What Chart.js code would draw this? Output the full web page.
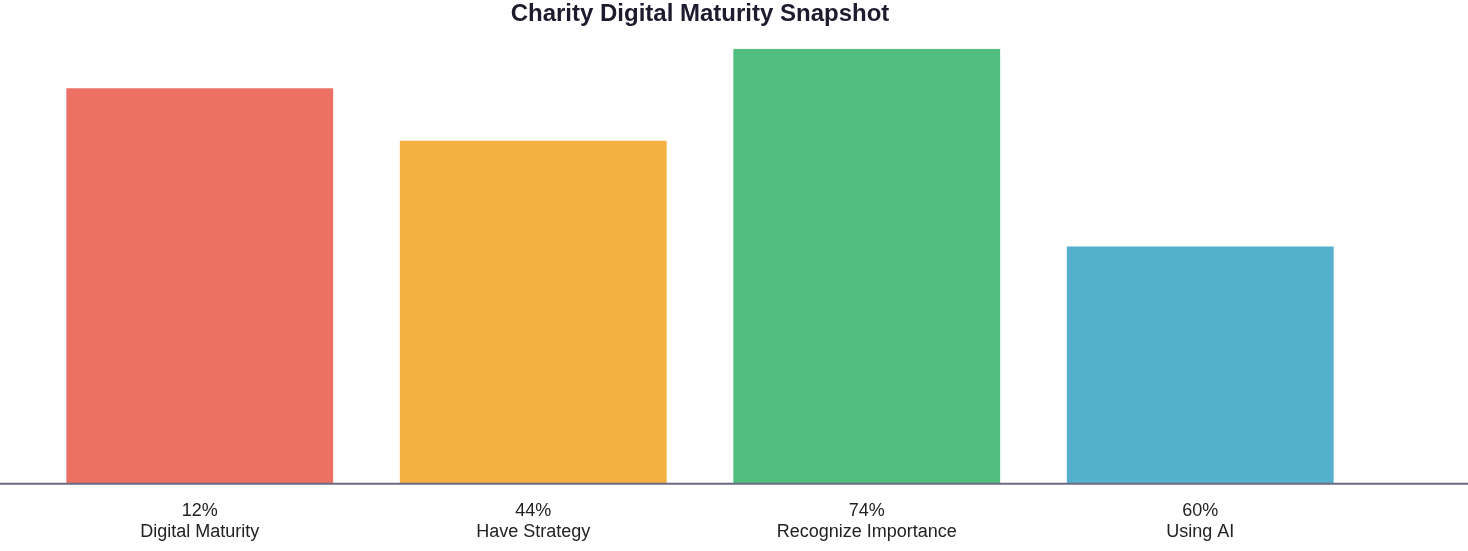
<!DOCTYPE html>
<html><head><meta charset="utf-8">
<script src="https://cdn.jsdelivr.net/npm/chart.js@4"></script>
<style>html,body{margin:0;padding:0;background:#fff}#w{width:1468px;height:551px}</style>
</head><body><div id="w"><canvas id="c"></canvas></div>
<script>
const categories = ["Digital Maturity","Have Strategy","Recognize Importance","Using AI"];
const percentLabels = ["12%","44%","74%","60%"];
const barValues = [400,347,440,240];
const colors = ["#ec7064","#f4b142","#51be7f","#54b0cc"];

const baseline = {
  id:'baseline',
  afterDatasetsDraw(chart){
    const {ctx} = chart; const y = chart.scales.y.getPixelForValue(0);
    ctx.save(); ctx.strokeStyle='#6b6a85'; ctx.lineWidth=2;
    ctx.beginPath(); ctx.moveTo(0,y); ctx.lineTo(chart.width,y); ctx.stroke(); ctx.restore();
  }
};
Chart.defaults.font.family = "Liberation Sans, Arial, sans-serif";
new Chart(document.getElementById('c'), {
  type:'bar',
  data:{labels: categories.map((c,i)=>[percentLabels[i], c]),
    datasets:[{data:barValues, backgroundColor:colors, barPercentage:0.8, categoryPercentage:1}]},
  options:{
    responsive:true, maintainAspectRatio:false, animation:false,
    layout:{padding:{left:33,right:101,top:0,bottom:0}},
    plugins:{legend:{display:false}, tooltip:{enabled:false},
      title:{display:true, text:'Charity Digital Maturity Snapshot', color:'#1c1c2e',
        font:{size:24, weight:'bold'}, padding:{top:0,bottom:20}}},
    scales:{
      y:{display:false, min:0, max:440},
      x:{grid:{display:false}, border:{display:false},
        ticks:{color:'#222', font:{size:18}, padding:8},
      }
    }
  },
  plugins:[baseline]
});
</script></body></html>
